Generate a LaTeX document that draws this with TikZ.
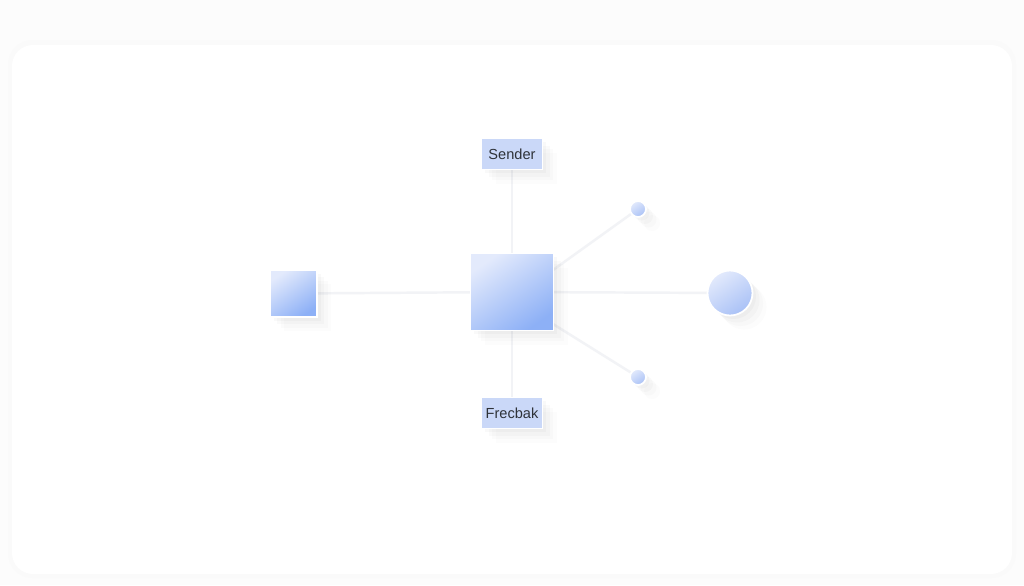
\documentclass[tikz,border=0pt]{standalone}
\usepackage{fontspec}
\setmainfont{Liberation Sans}
\usetikzlibrary{shapes, calc, positioning}
\definecolor{boxblue}{HTML}{CAD8F8}
\definecolor{lightblue}{HTML}{E3EAFC}
\definecolor{deepblue}{HTML}{8DB0F6}
\definecolor{dotblue}{HTML}{A9C1F6}
\definecolor{linegray}{HTML}{F2F3F6}
\definecolor{textgray}{HTML}{2E3238}
\newcommand{\labelsize}{\fontsize{8.3}{10}\selectfont}

\begin{document}
\begin{tikzpicture}[x=0.02cm,y=-0.02cm,style=thick]
            \useasboundingbox (0,0) rectangle (1024,585);
            \fill[black!1.2] (0,0) rectangle (1024,585);
            \fill[black!2,rounded corners=14] (8,40) rectangle (1016,578);
            \fill[white,rounded corners=12] (12,45) rectangle (1012,574);

            \tikzstyle{soft}=[
              preaction={fill=black,opacity=0.022,transform canvas={shift={(2pt,-2pt)}}},
              preaction={fill=black,opacity=0.018,transform canvas={shift={(4pt,-4pt)}}},
              preaction={fill=black,opacity=0.014,transform canvas={shift={(6pt,-6pt)}}},
              preaction={fill=black,opacity=0.010,transform canvas={shift={(8pt,-8pt)}}}]
            \tikzstyle{label}=[draw=white,line width=1pt,fill=boxblue,minimum width=1.22cm,minimum height=0.62cm,inner sep=0pt,font=\labelsize,text=textgray,soft]
            \tikzstyle{block}=[draw=white,line width=1pt,top color=lightblue,bottom color=deepblue,shading angle=35,inner sep=0pt,soft]
            \tikzstyle{dot}=[circle,draw=white,line width=1pt,top color=lightblue,bottom color=dotblue,shading angle=35,inner sep=0pt,soft]
            \tikzstyle{link}=[-,linegray,line width=1.4pt]

            % anchors of the links, drawn first so the nodes sit on top
            \coordinate (source) at (293.5,293.5);
            \coordinate (channel) at (512,292);
            \coordinate (sender) at (512,154);
            \coordinate (feedback) at (512,413);
            \coordinate (up) at (638,209);
            \coordinate (down) at (638,377);
            \coordinate (receiver) at (730,293);
            \coordinate (c_up) at (553,270);
            \coordinate (c_down) at (553,324);

            \draw [link] (source) -- (channel);
            \draw [link] (channel) -- (receiver);
            \draw [link] (sender) -- (channel);
            \draw [link] (channel) -- (feedback);
            \draw [link] (c_up) -- (up);
            \draw [link] (c_down) -- (down);

            \node[label] (sender) at (512,154) {Sender};
            \node[label] (feedback) at (512,413) {Frecbak};

            \node[block,minimum width=0.94cm,minimum height=0.94cm] (source) at (293.5,293.5) {};
            \node[block,minimum width=1.66cm,minimum height=1.54cm] (channel) at (512,292) {};

            \node[dot,minimum size=0.32cm] (up) at (638,209) {};
            \node[dot,minimum size=0.32cm] (down) at (638,377) {};
            \node[dot,minimum size=0.9cm] (receiver) at (730,293) {};
\end{tikzpicture}
\end{document}
